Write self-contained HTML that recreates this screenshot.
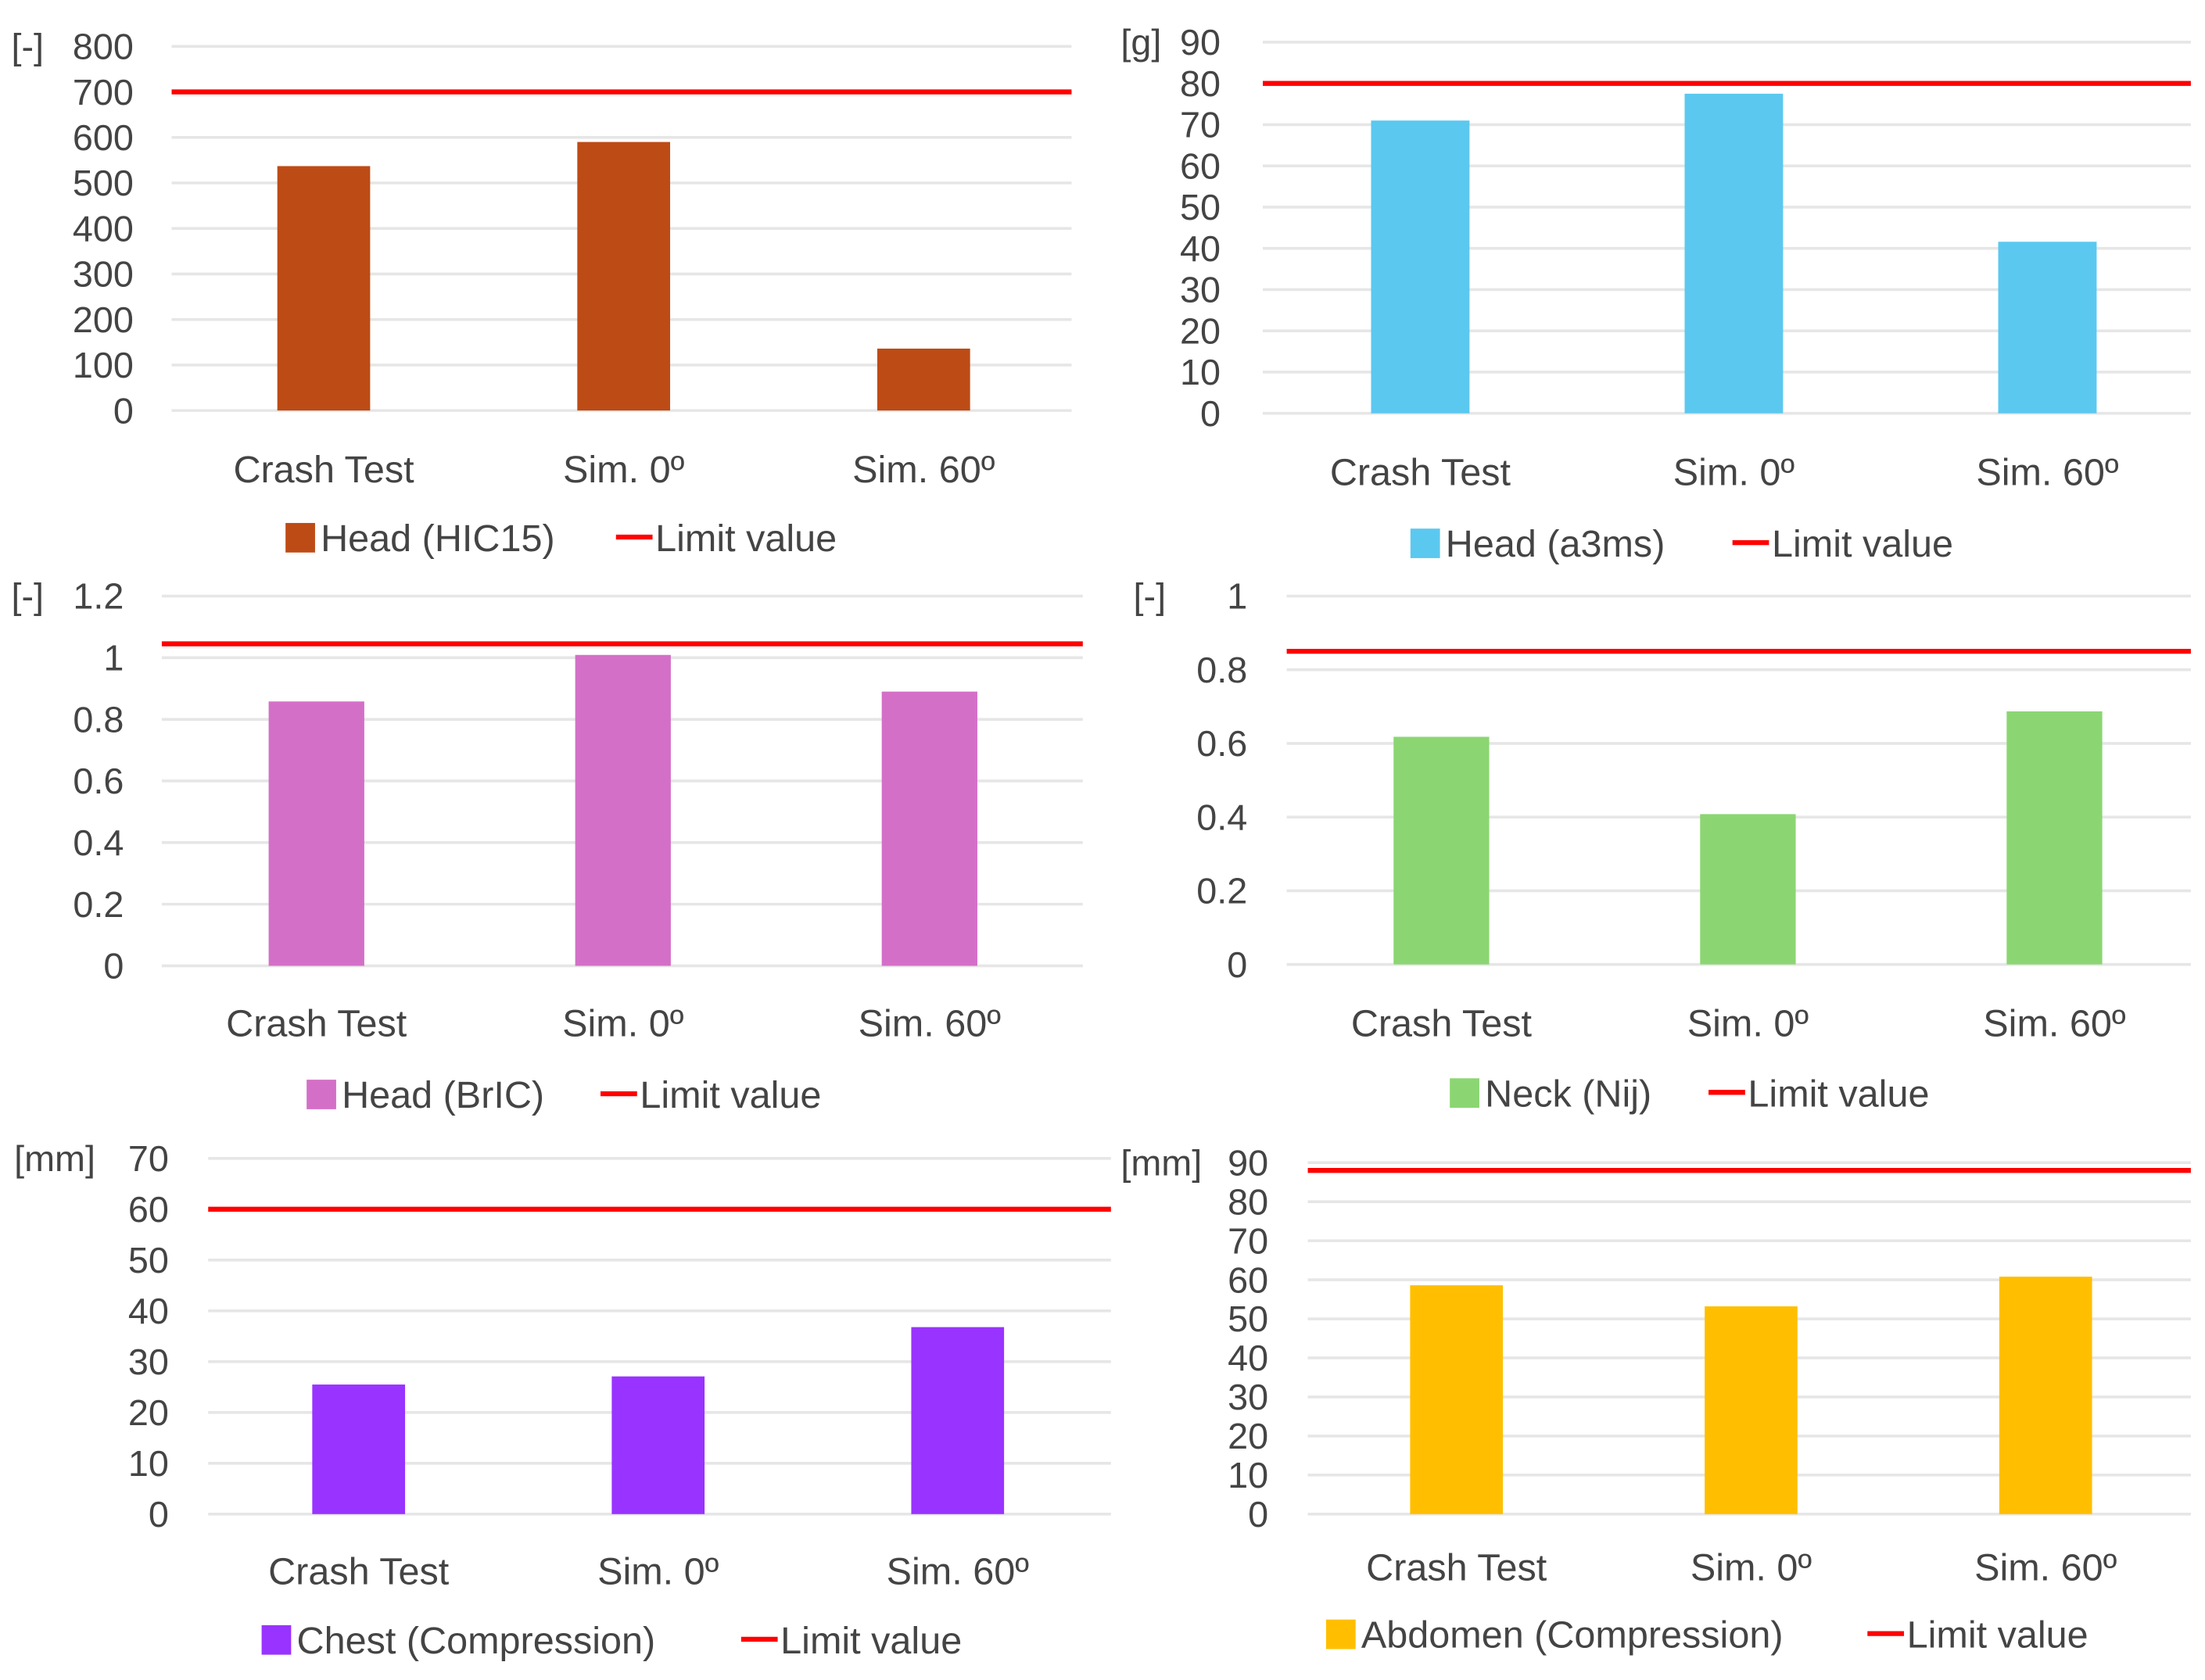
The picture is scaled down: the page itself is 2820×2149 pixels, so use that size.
<!DOCTYPE html>
<html><head><meta charset="utf-8"><style>
html,body{margin:0;padding:0;background:#fff;}
svg{display:block;}
text{font-family:"Liberation Sans",sans-serif;fill:#444444;}
</style></head>
<body>
<svg id="fig" width="2820" height="2149" viewBox="0 0 1568 1195" xmlns="http://www.w3.org/2000/svg"></svg>
<script>
const categories = ["Crash Test", "Sim. 0º", "Sim. 60º"];
const hicValues = [537, 590, 136];
const hicTicks = [0,100,200,300,400,500,600,700,800];
const hicLimit = [700];
const a3msValues = [71, 77.5, 41.6];
const a3msTicks = [0,10,20,30,40,50,60,70,80,90];
const a3msLimit = [80];
const bricValues = [0.858, 1.009, 0.89];
const bricTicks = [0,0.2,0.4,0.6,0.8,1,1.2];
const bricTickLabels = ["0","0.2","0.4","0.6","0.8","1","1.2"];
const bricLimit = [1.045];
const nijValues = [0.618, 0.408, 0.687];
const nijTicks = [0,0.2,0.4,0.6,0.8,1];
const nijTickLabels = ["0","0.2","0.4","0.6","0.8","1"];
const nijLimit = [0.85];
const chestValues = [25.5, 27.1, 36.8];
const chestTicks = [0,10,20,30,40,50,60,70];
const chestLimit = [60];
const abdValues = [58.6, 53.2, 60.8];
const abdTicks = [0,10,20,30,40,50,60,70,80,90];
const abdLimit = [88];

const NS = "http://www.w3.org/2000/svg";
const svg = document.getElementById("fig");
function mk(tag, attrs, parent, txt){
  const e = document.createElementNS(NS, tag);
  for (const k in attrs) e.setAttribute(k, attrs[k]);
  if (txt !== undefined) e.textContent = txt;
  parent.appendChild(e);
  return e;
}
function chart(cfg){
  const g = mk("g", {}, svg);
  
  
  const ymax = cfg.ticks[cfg.ticks.length-1];
  const y = v => cfg.y0 - (v/ymax)*(cfg.y0-cfg.yTop);
  const bx0 = cfg.bx0 !== undefined ? cfg.bx0 : cfg.x0;
  const bx1 = cfg.bx1 !== undefined ? cfg.bx1 : cfg.x1;
  const bandW = (bx1-bx0)/cfg.cats.length;
  const x = i => bx0 + bandW*(i+0.5);
  cfg.ticks.forEach((t,i)=>{
    const gl = mk("line",{x1:cfg.x0,x2:cfg.x1,y1:y(t),y2:y(t),stroke:"#e6e6e6","stroke-width":2},g);
    
    
    const tl = mk("text",{x:cfg.tickX,y:y(t)+9,"text-anchor":"end","font-size":26},g,cfg.tickLabels?cfg.tickLabels[i]:String(t));
    
    
  });
  const u = mk("text",{x:cfg.unitX,y:y(ymax)+9,"font-size":26},g,cfg.unit);
  
  
  cfg.vals.forEach((v,i)=>{
    const b = mk("rect",{x:x(i)-cfg.barW/2,y:y(v),width:cfg.barW,height:y(0)-y(v),fill:cfg.color},g);
    
    
    const c = mk("text",{x:x(i),y:cfg.catY+9,"text-anchor":"middle","font-size":27},g,cfg.cats[i]);
    
    
  });
  const L = mk("line",{x1:cfg.x0,x2:cfg.x1,y1:y(cfg.limit[0]),y2:y(cfg.limit[0]),stroke:"#ff0000","stroke-width":3.5},g);
  
  
  const sw = mk("rect",{x:cfg.legX,y:cfg.legY-10,width:21,height:21,fill:cfg.color},g);
  
  
  const lt = mk("text",{x:cfg.legX+25,y:cfg.legY+10,"font-size":27},g,cfg.series);
  
  
  const ll = mk("line",{x1:cfg.lineX,x2:cfg.lineX+26,y1:cfg.legY,y2:cfg.legY,stroke:"#ff0000","stroke-width":3.5},g);
  
  
  const lt2 = mk("text",{x:cfg.lineX+28,y:cfg.legY+10,"font-size":27},g,"Limit value");
  
  
}
chart({name:"hic",cats:categories,vals:hicValues,ticks:hicTicks,limit:hicLimit,color:"#bd4b15",
  x0:122,x1:762,bx0:123.5,bx1:763.5,y0:292,yTop:33,barW:66,tickX:95,unit:"[-]",unitX:8,catY:334,
  series:"Head (HIC15)",legX:203,legY:382,lineX:438});
chart({name:"a3ms",cats:categories,vals:a3msValues,ticks:a3msTicks,limit:a3msLimit,color:"#5bc8f0",
  x0:898,x1:1558,bx0:898.5,bx1:1567.5,y0:294,yTop:30,barW:70,tickX:868,unit:"[g]",unitX:797,catY:336,
  series:"Head (a3ms)",legX:1003,legY:386,lineX:1232});
chart({name:"bric",cats:categories,vals:bricValues,ticks:bricTicks,tickLabels:bricTickLabels,limit:bricLimit,color:"#d46fc8",
  x0:115,x1:770,bx0:116,bx1:770,y0:687,yTop:424,barW:68,tickX:88,unit:"[-]",unitX:8,catY:728,
  series:"Head (BrIC)",legX:218,legY:778,lineX:427});
chart({name:"nij",cats:categories,vals:nijValues,ticks:nijTicks,tickLabels:nijTickLabels,limit:nijLimit,color:"#8bd672",
  x0:915,x1:1558,bx0:916,bx1:1570,y0:686,yTop:424,barW:68,tickX:887,unit:"[-]",unitX:806,catY:728,
  series:"Neck (Nij)",legX:1031,legY:777,lineX:1215});
chart({name:"chest",cats:categories,vals:chestValues,ticks:chestTicks,limit:chestLimit,color:"#9933ff",
  x0:148,x1:790,bx0:148.5,bx1:787.5,y0:1077,yTop:824,barW:66,tickX:120,unit:"[mm]",unitX:10,catY:1118,
  series:"Chest (Compression)",legX:186,legY:1166,lineX:527});
chart({name:"abdomen",cats:categories,vals:abdValues,ticks:abdTicks,limit:abdLimit,color:"#ffbf00",
  x0:930,x1:1558,bx0:931,bx1:1559.5,y0:1077,yTop:827,barW:66,tickX:902,unit:"[mm]",unitX:797,catY:1115,
  series:"Abdomen (Compression)",legX:943,legY:1162,lineX:1328});
</script>
</body></html>
